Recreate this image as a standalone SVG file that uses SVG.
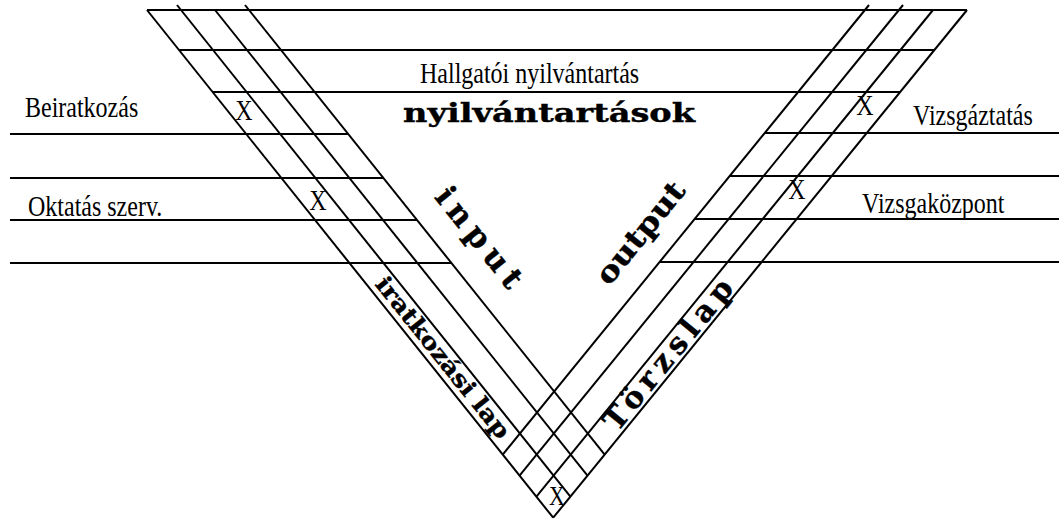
<svg xmlns="http://www.w3.org/2000/svg" width="1059" height="520" viewBox="0 0 1059 520">
<style>
.ln{stroke:#000;stroke-width:2;fill:none;stroke-linecap:butt}
.t{font-family:"Liberation Serif","Times New Roman",serif;font-size:24px;fill:#000}
.x{font-family:"Liberation Serif","Times New Roman",serif;font-size:24px;fill:#000;text-anchor:middle}
.b{font-family:"DejaVu Serif","Liberation Serif",serif;font-weight:bold;fill:#000;stroke:#000;stroke-width:0.4}
</style>
<rect width="1059" height="520" fill="#fff"/>
<g id="connectors" class="ln">
  <line x1="147" y1="10" x2="967" y2="10"/>
  <line x1="179" y1="50" x2="934.4" y2="50"/>
  <line x1="212.6" y1="92" x2="900.2" y2="92"/>
  <line x1="10" y1="134" x2="348.2" y2="134"/>
  <line x1="10" y1="178" x2="383.4" y2="178"/>
  <line x1="10" y1="220" x2="417" y2="220"/>
  <line x1="10" y1="263" x2="451.4" y2="263"/>
  <line x1="764.8" y1="133" x2="1059" y2="133"/>
  <line x1="729.7" y1="176" x2="1059" y2="176"/>
  <line x1="694.7" y1="219" x2="1059" y2="219"/>
  <line x1="659.6" y1="262" x2="1059" y2="262"/>
  <line x1="147" y1="10" x2="553.2" y2="517.7"/>
  <line x1="177" y1="5" x2="570.4" y2="496.7"/>
  <line x1="215" y1="10" x2="587.5" y2="475.6"/>
  <line x1="245" y1="5" x2="604.7" y2="454.6"/>
  <line x1="967" y1="10" x2="553.2" y2="517.7"/>
  <line x1="933" y1="10" x2="536.4" y2="496.7"/>
  <line x1="903" y1="5" x2="519.5" y2="475.6"/>
  <line x1="869" y1="5" x2="502.7" y2="454.6"/>
</g>
<g id="label-beiratkozas"><text class="t" transform="translate(25,117) scale(1,1.25)">Beiratkozás</text></g>
<g id="label-oktatas"><text class="t" transform="translate(28,216) scale(1,1.25)">Oktatás szerv.</text></g>
<g id="label-hallgatoi"><text class="t" transform="translate(420,83) scale(1,1.25)">Hallgatói nyilvántartás</text></g>
<g id="label-vizsgaztatas"><text class="t" transform="translate(913,125) scale(1,1.25)">Vizsgáztatás</text></g>
<g id="label-vizsgakozpont"><text class="t" transform="translate(862,213) scale(1,1.25)">Vizsgaközpont</text></g>
<g id="marks">
  <text class="x" transform="translate(244,120) scale(1,1.25)">X</text>
  <text class="x" transform="translate(318,210) scale(1,1.25)">X</text>
  <text class="x" transform="translate(865,115) scale(1,1.25)">X</text>
  <text class="x" transform="translate(797,199) scale(1,1.25)">X</text>
  <text class="x" style="font-size:22px" transform="translate(557,505) scale(1,1.2)">X</text>
</g>
<g id="label-nyilvantartasok"><text class="b" x="403" y="122" font-size="26" textLength="292" lengthAdjust="spacingAndGlyphs">nyilvántartások</text></g>
<g id="label-input"><text class="b" font-size="31" text-anchor="middle" textLength="120" lengthAdjust="spacing" transform="translate(471,244) rotate(51.3)">input</text></g>
<g id="label-output"><text class="b" font-size="29" text-anchor="middle" textLength="123" lengthAdjust="spacingAndGlyphs" transform="translate(648,239) rotate(-50.8)">output</text></g>
<g id="label-iratkozasi"><text class="b" font-size="23" text-anchor="middle" textLength="200" lengthAdjust="spacingAndGlyphs" transform="translate(436.8,362.5) rotate(51.3)">iratkozási lap</text></g>
<g id="label-torzslap"><text class="b" font-size="30" text-anchor="middle" textLength="186" lengthAdjust="spacing" transform="translate(676,361) rotate(-50.8)">Törzslap</text></g>
</svg>
